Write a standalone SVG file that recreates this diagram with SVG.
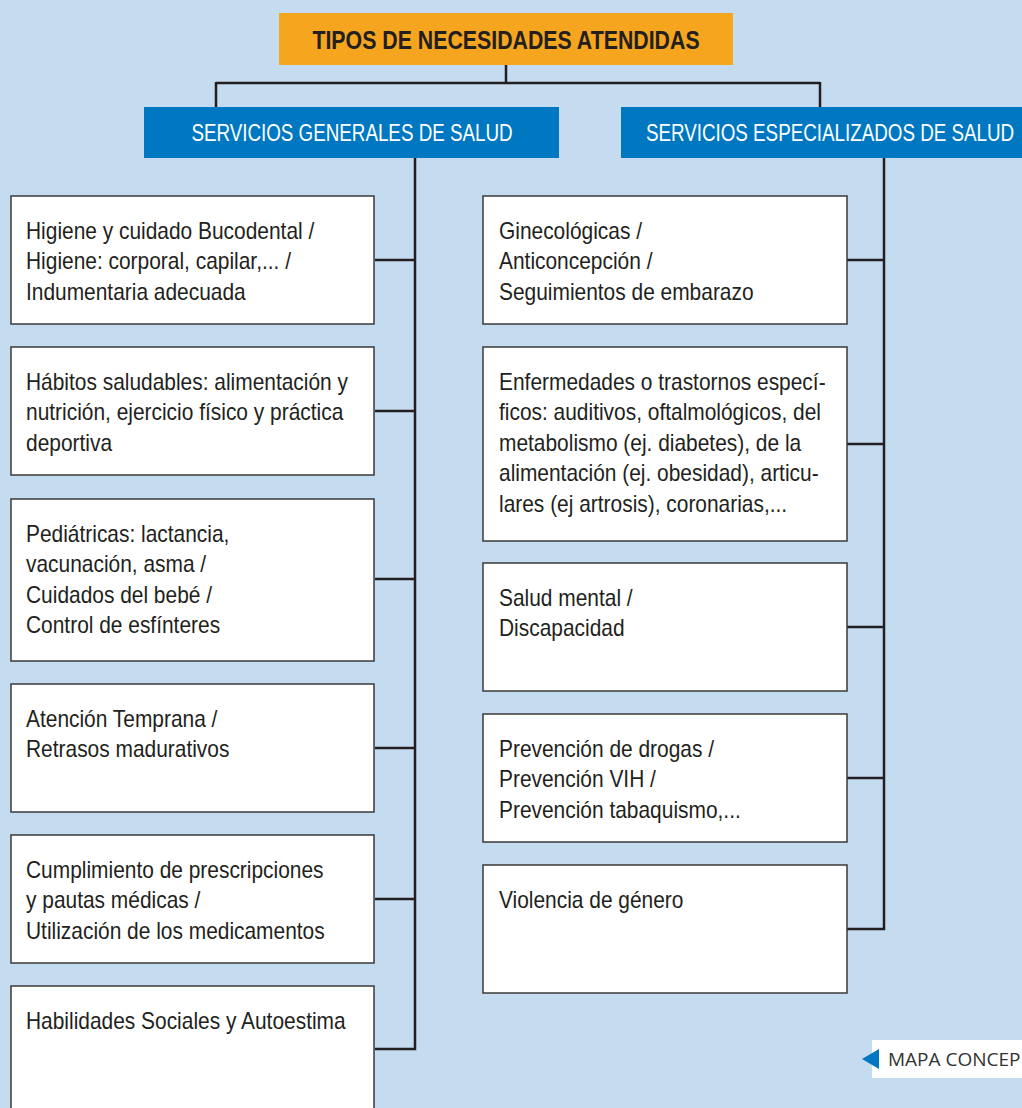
<svg xmlns="http://www.w3.org/2000/svg" width="1022" height="1108" viewBox="0 0 1022 1108">
<style>
.bg{fill:#C5DBEF}
.box{fill:#fff;stroke:#3a3a3a;stroke-width:1.5}
.t{font-family:"Liberation Sans",Arial,sans-serif;font-size:23px;fill:#231F20}
.hd{font-family:"Liberation Sans",Arial,sans-serif;font-size:23.5px;fill:#fff}
.ti{font-family:"Liberation Sans",Arial,sans-serif;font-size:26px;font-weight:bold;fill:#231F20}
.ln{fill:none;stroke:#231F20;stroke-width:2.5}
</style>
<rect class="bg" x="0" y="0" width="1022" height="1108"/>
<g id="connectors">
<path class="ln" d="M506,65 V83 M216,83 H820 M216,82 V107 M820,82 V107"/>
<path class="ln" d="M415,158 V1049 H375 M375,260 H415 M375,411 H415 M375,579 H415 M375,748 H415 M375,899 H415"/>
<path class="ln" d="M884,158 V929 H847 M847,260 H884 M847,444 H884 M847,627 H884 M847,778 H884"/>
</g>
<g id="title">
<rect x="279" y="13" width="454" height="52" fill="#F6A51E"/>
<text class="ti" transform="translate(506,49) scale(0.82,1)" x="0" y="0" text-anchor="middle">TIPOS DE NECESIDADES ATENDIDAS</text>
</g>
<g id="generales">
<rect x="144" y="107" width="415" height="51" fill="#0078C1"/>
<text class="hd" transform="translate(352,141) scale(0.8,1)" x="0" y="0" text-anchor="middle">SERVICIOS GENERALES DE SALUD</text>
</g>
<g id="especializados">
<rect x="621" y="107" width="401" height="51" fill="#0078C1"/>
<text class="hd" transform="translate(830,141) scale(0.8,1)" x="0" y="0" text-anchor="middle">SERVICIOS ESPECIALIZADOS DE SALUD</text>
</g>
<g id="l1"><rect class="box" x="11" y="196" width="363" height="128"/>
<text class="t" transform="translate(26,0) scale(0.91,1)" y="239"><tspan x="0">Higiene y cuidado Bucodental /</tspan><tspan x="0" dy="30.5">Higiene: corporal, capilar,... /</tspan><tspan x="0" dy="30.5">Indumentaria adecuada</tspan></text></g>
<g id="l2"><rect class="box" x="11" y="347" width="363" height="128"/>
<text class="t" transform="translate(26,0) scale(0.91,1)" y="390"><tspan x="0">Hábitos saludables: alimentación y</tspan><tspan x="0" dy="30.5">nutrición, ejercicio físico y práctica</tspan><tspan x="0" dy="30.5">deportiva</tspan></text></g>
<g id="l3"><rect class="box" x="11" y="499" width="363" height="162"/>
<text class="t" transform="translate(26,0) scale(0.91,1)" y="542"><tspan x="0">Pediátricas: lactancia,</tspan><tspan x="0" dy="30.5">vacunación, asma /</tspan><tspan x="0" dy="30.5">Cuidados del bebé /</tspan><tspan x="0" dy="30.5">Control de esfínteres</tspan></text></g>
<g id="l4"><rect class="box" x="11" y="684" width="363" height="128"/>
<text class="t" transform="translate(26,0) scale(0.91,1)" y="727"><tspan x="0">Atención Temprana /</tspan><tspan x="0" dy="30.5">Retrasos madurativos</tspan></text></g>
<g id="l5"><rect class="box" x="11" y="835" width="363" height="128"/>
<text class="t" transform="translate(26,0) scale(0.91,1)" y="878"><tspan x="0">Cumplimiento de prescripciones</tspan><tspan x="0" dy="30.5">y pautas médicas /</tspan><tspan x="0" dy="30.5">Utilización de los medicamentos</tspan></text></g>
<g id="l6"><rect class="box" x="11" y="986" width="363" height="140"/>
<text class="t" transform="translate(26,0) scale(0.91,1)" x="0" y="1029">Habilidades Sociales y Autoestima</text></g>
<g id="r1"><rect class="box" x="483" y="196" width="364" height="128"/>
<text class="t" transform="translate(499,0) scale(0.91,1)" y="239"><tspan x="0">Ginecológicas /</tspan><tspan x="0" dy="30.5">Anticoncepción /</tspan><tspan x="0" dy="30.5">Seguimientos de embarazo</tspan></text></g>
<g id="r2"><rect class="box" x="483" y="347" width="364" height="194"/>
<text class="t" transform="translate(499,0) scale(0.91,1)" y="390"><tspan x="0">Enfermedades o trastornos especí-</tspan><tspan x="0" dy="30.5">ficos: auditivos, oftalmológicos, del</tspan><tspan x="0" dy="30.5">metabolismo (ej. diabetes), de la</tspan><tspan x="0" dy="30.5">alimentación (ej. obesidad), articu-</tspan><tspan x="0" dy="30.5">lares (ej artrosis), coronarias,...</tspan></text></g>
<g id="r3"><rect class="box" x="483" y="563" width="364" height="128"/>
<text class="t" transform="translate(499,0) scale(0.91,1)" y="606"><tspan x="0">Salud mental /</tspan><tspan x="0" dy="30.5">Discapacidad</tspan></text></g>
<g id="r4"><rect class="box" x="483" y="714" width="364" height="128"/>
<text class="t" transform="translate(499,0) scale(0.91,1)" y="757"><tspan x="0">Prevención de drogas /</tspan><tspan x="0" dy="30.5">Prevención VIH /</tspan><tspan x="0" dy="30.5">Prevención tabaquismo,...</tspan></text></g>
<g id="r5"><rect class="box" x="483" y="865" width="364" height="128"/>
<text class="t" transform="translate(499,0) scale(0.91,1)" x="0" y="908">Violencia de género</text></g>
<g id="mapa">
<rect x="872" y="1040" width="150" height="38" fill="#fff"/>
<polygon points="862,1059 879,1049 879,1069" fill="#0078C1"/>
<text x="888" y="1066" font-family="'Open Sans','Liberation Sans',sans-serif" font-size="19" fill="#333">MAPA CONCEP</text>
</g>
</svg>
